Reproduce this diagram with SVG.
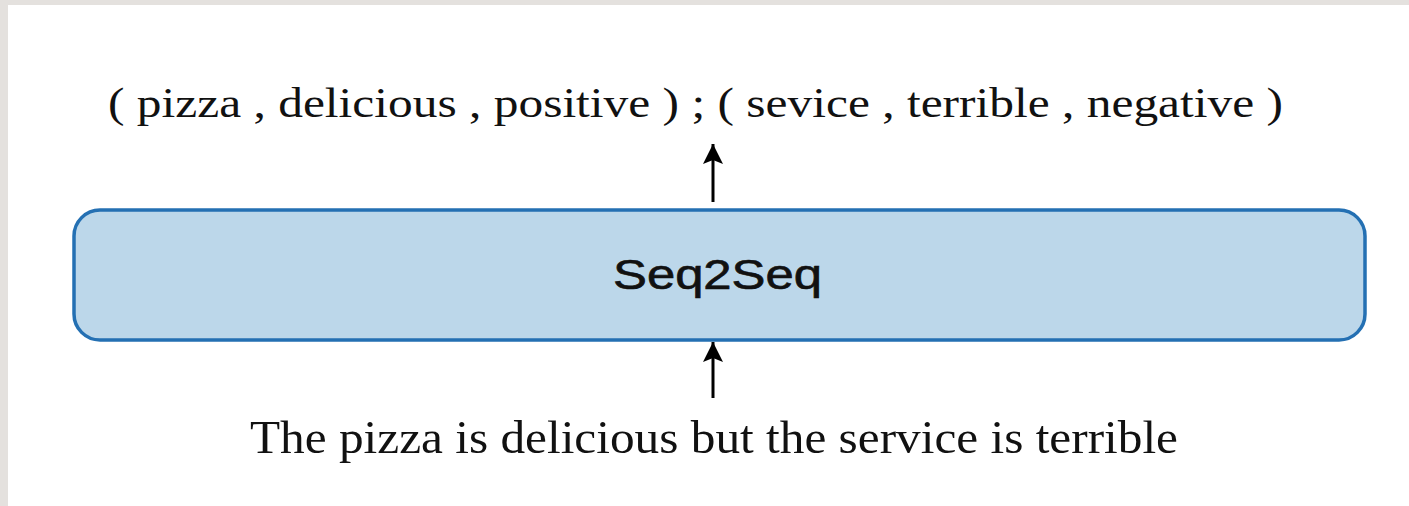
<svg xmlns="http://www.w3.org/2000/svg" width="1409" height="506" viewBox="0 0 1409 506">
<defs>
<style>
.serif{font-family:"Liberation Serif","Times New Roman",serif;fill:#111}
.conn{stroke:#000;stroke-width:3;fill:none}
</style>
<marker id="arrow" viewBox="0 0 20 22" refX="20" refY="11" markerWidth="20" markerHeight="22" markerUnits="userSpaceOnUse" orient="auto">
<path d="M0,1 L20,11 L0,21 L4,11 z" fill="#000"/>
</marker>
</defs>
<rect x="0" y="0" width="1409" height="506" fill="#e4e1de"/>
<rect x="8" y="5" width="1401" height="501" fill="#ffffff"/>
<g id="output">
<text class="serif" x="108" y="117" font-size="42" textLength="1175" lengthAdjust="spacingAndGlyphs">( pizza , delicious , positive ) ; ( sevice , terrible , negative )</text>
</g>
<g id="seq2seq">
<rect x="74" y="210" width="1291" height="130" rx="26" ry="26" fill="#bcd7ea" stroke="#2470b3" stroke-width="3.5"/>
<text x="613" y="289" font-family="Liberation Sans, Arial, sans-serif" font-size="43" textLength="209" lengthAdjust="spacingAndGlyphs" fill="#111" stroke="#111" stroke-width="0.7">Seq2Seq</text>
</g>
<g id="input">
<text class="serif" x="250" y="453" font-size="47" textLength="928" lengthAdjust="spacingAndGlyphs">The pizza is delicious but the service is terrible</text>
</g>
<g id="connectors">
<line class="conn" x1="713" y1="202" x2="713" y2="144" marker-end="url(#arrow)"/>
<line class="conn" x1="713" y1="398" x2="713" y2="342" marker-end="url(#arrow)"/>
</g>
</svg>
